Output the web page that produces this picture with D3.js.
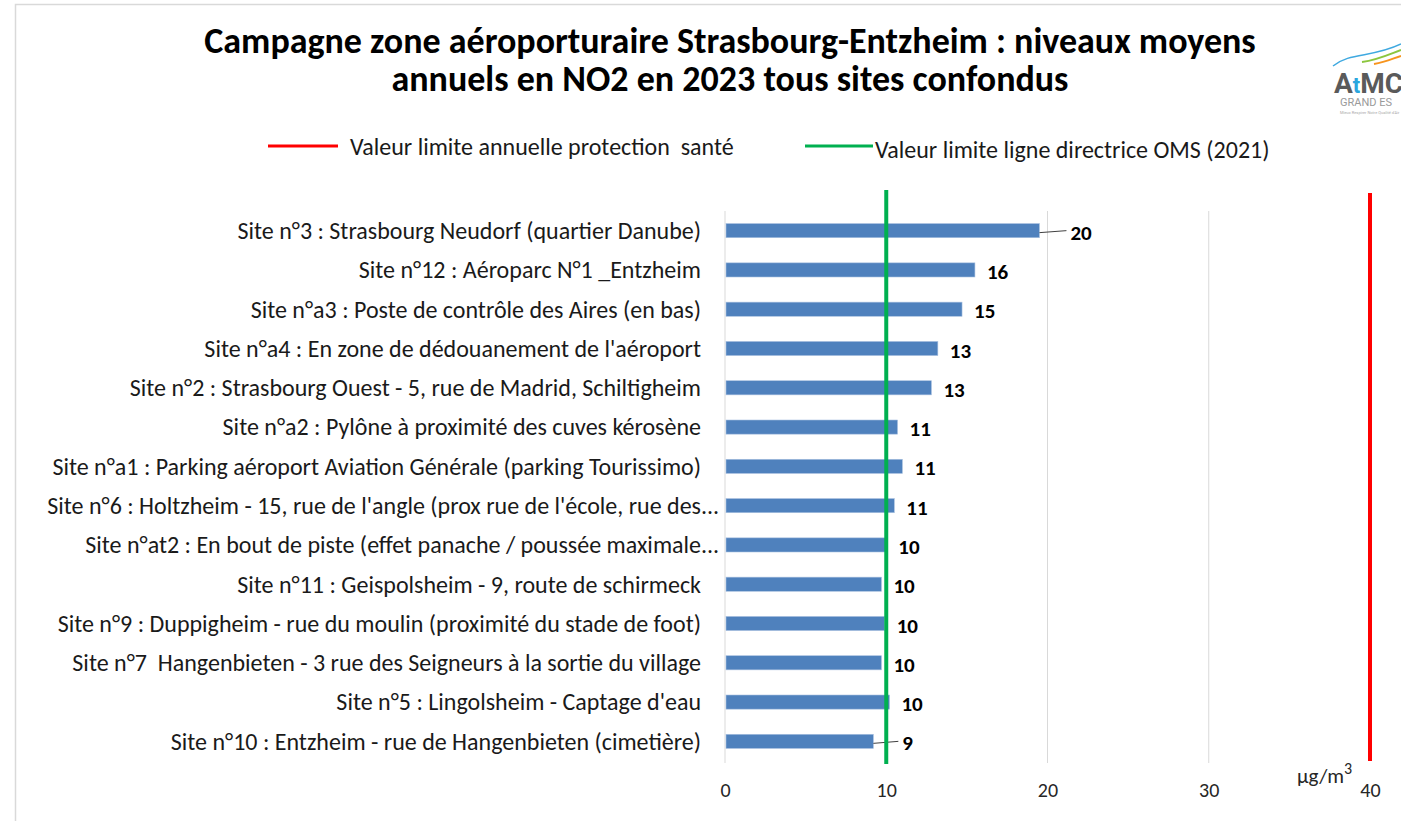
<!DOCTYPE html>
<html>
<head>
<meta charset="utf-8">
<script src="https://cdn.jsdelivr.net/npm/d3@7"></script>
<style>
  body { margin: 0; background: #fff; }
  text { font-family: Carlito, Lato, "Open Sans", sans-serif; white-space: pre; }
</style>
</head>
<body>
<div id="a"></div>
<script>
// data
var sites = [
  "Site n°3 : Strasbourg Neudorf (quartier Danube)",
  "Site n°12 : Aéroparc N°1 _Entzheim",
  "Site n°a3 : Poste de contrôle des Aires (en bas)",
  "Site n°a4 : En zone de dédouanement de l'aéroport",
  "Site n°2 : Strasbourg Ouest - 5, rue de Madrid, Schiltigheim",
  "Site n°a2 : Pylône à proximité des cuves kérosène",
  "Site n°a1 : Parking aéroport Aviation Générale (parking Tourissimo)",
  "Site n°6 : Holtzheim - 15, rue de l'angle (prox rue de l'école, rue des",
  "Site n°at2 : En bout de piste (effet panache / poussée maximale",
  "Site n°11 : Geispolsheim - 9, route de schirmeck",
  "Site n°9 : Duppigheim - rue du moulin (proximité du stade de foot)",
  "Site n°7  Hangenbieten - 3 rue des Seigneurs à la sortie du village",
  "Site n°5 : Lingolsheim - Captage d'eau",
  "Site n°10 : Entzheim - rue de Hangenbieten (cimetière)"
];
var truncated = [false,false,false,false,false,false,false,true,true,false,false,false,false,false];
var no2 = [19.5, 15.5, 14.7, 13.2, 12.8, 10.7, 11.0, 10.5, 10.0, 9.7, 9.9, 9.7, 10.2, 9.2];
var xTicks = [0, 10, 20, 30, 40];
var limitEU = 40, limitOMS = 10;
var legendLabels = ["Valeur limite annuelle protection  santé", "Valeur limite ligne directrice OMS (2021)"];
var titleLines = ["Campagne zone aéroporturaire Strasbourg-Entzheim : niveaux moyens",
                  "annuels en NO2 en 2023 tous sites confondus"];

var W = 1401, H = 821;
var mLeft = 725, mRight = 1370, mTop = 211, mBottom = 761;
var txt = "#1a1a1a";

var svg = d3.select("#a").append("svg")
  .attr("width", W).attr("height", H)
  .style("background", "#fff");

// outer chart frame
svg.append("rect")
  .attr("x", 15.5).attr("y", 4.5).attr("width", W + 10).attr("height", H + 10)
  .attr("fill", "none").attr("stroke", "#d9d9d9").attr("stroke-width", 1.5);

var x = d3.scaleLinear().domain([0, 40]).range([mLeft, mRight]);
var y = d3.scaleBand().domain(sites).range([mTop, mBottom]).paddingInner(0.64).paddingOuter(0.32);

// title
svg.append("g").selectAll("text")
  .data(titleLines).enter().append("text")
  .attr("x", 730).attr("y", function(d, i) { return 53 + i * 38; })
  .attr("text-anchor", "middle")
  .attr("font-size", 36).attr("font-weight", "bold").attr("fill", "#000")
  .text(function(d) { return d; });

// legend
var leg = svg.append("g");
leg.append("line").attr("x1", 268).attr("x2", 338).attr("y1", 146).attr("y2", 146)
  .attr("stroke", "#ff0000").attr("stroke-width", 3);
leg.append("text").attr("x", 350).attr("y", 155).attr("font-size", 24).attr("fill", txt)
  .text(legendLabels[0]);
leg.append("line").attr("x1", 805).attr("x2", 873).attr("y1", 146).attr("y2", 146)
  .attr("stroke", "#00b050").attr("stroke-width", 3);
leg.append("text").attr("x", 875).attr("y", 158).attr("font-size", 24).attr("fill", txt)
  .text(legendLabels[1]);

// gridlines
svg.append("g").selectAll("line")
  .data(xTicks.slice(0, 4)).enter().append("line")
  .attr("x1", function(d) { return x(d); }).attr("x2", function(d) { return x(d); })
  .attr("y1", mTop).attr("y2", mBottom + 2)
  .attr("stroke", "#d9d9d9").attr("stroke-width", 1);

// x axis (labels only)
var xAxis = svg.append("g").attr("transform", "translate(0," + (mBottom + 36) + ")")
  .call(d3.axisBottom(x).tickValues(xTicks).tickSize(0).tickPadding(0));
xAxis.select(".domain").remove();
xAxis.selectAll("text").attr("font-size", 20).attr("fill", "#262626").attr("dy", 0)
  .style("font-family", "Carlito, Lato, 'Open Sans', sans-serif");

var unit = svg.append("text").attr("x", 1297).attr("y", 783).attr("font-size", 21).attr("fill", "#262626")
  .text("µg/m");
unit.append("tspan").attr("dy", -9).attr("font-size", 16).text("3");

// y axis labels
var yAxis = svg.append("g").attr("transform", "translate(" + (mLeft - 24) + ",0)")
  .call(d3.axisLeft(y).tickSize(0).tickPadding(0));
yAxis.select(".domain").remove();
yAxis.selectAll("text").attr("font-size", 24).attr("fill", txt)
  .style("font-family", "Carlito, Lato, 'Open Sans', sans-serif")
  .attr("dy", "0.35em");
// ellipsis for the cut labels
svg.append("g").selectAll("text")
  .data(sites.filter(function(d, i) { return truncated[i]; })).enter().append("text")
  .attr("x", mLeft - 24).attr("y", function(d) { return y(d) + y.bandwidth() / 2; })
  .attr("dy", "0.35em").attr("font-size", 24).attr("fill", txt)
  .text("...");

// bars
svg.append("g").selectAll("rect")
  .data(no2).enter().append("rect")
  .attr("x", x(0) + 1)
  .attr("y", function(d, i) { return y(sites[i]); })
  .attr("width", function(d) { return x(d) - x(0) - 1; })
  .attr("height", y.bandwidth())
  .attr("fill", "#4f81bd").attr("stroke", "#a9c1e0").attr("stroke-width", 0.6);

// data labels, two of them pushed out with a leader line
var pushed = { 0: 27, 13: 25 };
var lbl = svg.append("g");
no2.forEach(function(d, i) {
  var cy = y(sites[i]) + y.bandwidth() / 2;
  var off = pushed[i] !== undefined ? pushed[i] : 0;
  if (off) {
    lbl.append("line").attr("x1", x(d)).attr("x2", x(d) + off).attr("y1", cy + 2).attr("y2", cy)
      .attr("stroke", "#404040").attr("stroke-width", 1);
  }
  lbl.append("text").attr("x", x(d) + (off ? off + 4 : 12)).attr("y", cy + 9)
    .attr("font-size", 21).attr("font-weight", "bold").attr("fill", "#000")
    .text(Math.round(d));
});

// reference lines
svg.append("line").attr("x1", x(limitOMS)).attr("x2", x(limitOMS)).attr("y1", 190).attr("y2", mBottom + 3)
  .attr("stroke", "#00b050").attr("stroke-width", 4);
svg.append("line").attr("x1", x(limitEU)).attr("x2", x(limitEU)).attr("y1", 193).attr("y2", mBottom)
  .attr("stroke", "#ff0000").attr("stroke-width", 4);

// logo (cropped at the right edge)
var logo = svg.append("g");
logo.append("path").attr("d", "M1333,66 C1350,52 1372,58 1401,44")
  .attr("fill", "none").attr("stroke", "#3fa9e0").attr("stroke-width", 1.5);
logo.append("path").attr("d", "M1362,62 C1378,60 1390,54 1401,50")
  .attr("fill", "none").attr("stroke", "#8cc63f").attr("stroke-width", 2);
logo.append("path").attr("d", "M1374,64 C1386,62 1394,58 1401,56")
  .attr("fill", "none").attr("stroke", "#f7941d").attr("stroke-width", 2);
logo.append("text").attr("x", 1334).attr("y", 93).attr("font-size", 28).attr("font-weight", "bold")
  .attr("fill", "#5a5a5a").style("font-family", "Roboto, sans-serif")
  .html('A<tspan fill="#2aa6de" font-size="22">t</tspan>MC');
logo.append("text").attr("x", 1340).attr("y", 106).attr("font-size", 11).attr("fill", "#9a9a9a")
  .style("font-family", "Roboto, sans-serif").text("GRAND ES");
logo.append("text").attr("x", 1340).attr("y", 114).attr("font-size", 4).attr("fill", "#aaa")
  .style("font-family", "Roboto, sans-serif").text("Mieux Respirer Notre Qualité d'Air");
</script>
</body>
</html>
